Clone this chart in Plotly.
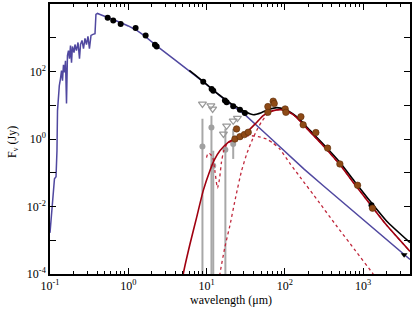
import numpy as np
import plotly.graph_objects as go

# ---------------- data (log10 wavelength [um], log10 flux [Jy]) ----------------
star_logw = [-1.000, -0.981, -0.962, -0.949, -0.943, -0.923, -0.911, -0.904, -0.894, -0.881,
             -0.866, -0.853, -0.840, -0.828, -0.815, -0.802, -0.789, -0.777, -0.764, -0.751,
             -0.738, -0.725, -0.713, -0.693, -0.681, -0.662, -0.642, -0.623, -0.610, -0.591,
             -0.572, -0.553, -0.534, -0.515, -0.496, -0.476, -0.451, -0.425, -0.413, -0.393,
             -0.36, -0.30, -0.20, -0.10, 0.0, 0.10, 0.20, 0.30, 0.40, 0.60, 0.80, 1.00,
             1.25, 1.50, 1.75, 2.00, 2.25, 2.50, 3.00, 3.60]
star_logf = [-2.78, -2.28, -1.83, -1.39, -1.18, -1.12, -0.35, 0.84, 1.26, 1.58,
             1.79, 2.03, 1.73, 2.20, 1.97, 2.32, 1.05, 2.47, 2.62, 2.38,
             2.77, 2.26, 2.74, 2.56, 2.80, 2.62, 2.86, 2.38, 2.80, 2.92,
             2.68, 2.98, 2.80, 3.04, 2.68, 3.07, 3.10, 3.12, 3.69, 3.72,
             3.69, 3.64, 3.55, 3.45, 3.35, 3.23, 3.07, 2.88, 2.69, 2.34, 1.99, 1.62,
             1.13, 0.70, 0.17, -0.37, -0.90, -1.40, -2.38, -3.57]

total_logw = [0.78, 0.9, 1.0, 1.1, 1.2, 1.3, 1.4, 1.5, 1.6, 1.7, 1.8, 1.9, 2.0, 2.1,
              2.2, 2.3, 2.5, 2.7, 2.9, 3.1, 3.3, 3.6]
total_logf = [2.03, 1.81, 1.62, 1.42, 1.24, 1.07, 0.93, 0.80, 0.72, 0.78, 0.88, 0.93, 0.88, 0.75,
              0.56, 0.31, -0.17, -0.68, -1.28, -1.87, -2.43, -3.07]

dust_logw = [0.69, 0.703, 0.788, 0.873, 0.958, 1.043, 1.10, 1.171, 1.277, 1.40, 1.512, 1.64,
             1.724, 1.80, 1.852, 1.937, 2.0, 2.107, 2.2, 2.3, 2.5, 2.7, 2.9, 3.1, 3.3, 3.6]
dust_logf = [-4.3, -4.0, -3.12, -2.33, -1.53, -0.94, -0.62, -0.35, -0.10, 0.05, 0.20, 0.49,
             0.69, 0.80, 0.84, 0.87, 0.85, 0.72, 0.52, 0.27, -0.22, -0.75, -1.36, -1.96, -2.55, -3.33]

cold_logw = [1.15, 1.171, 1.235, 1.299, 1.37, 1.448, 1.52, 1.58, 1.64, 1.70, 1.78, 1.852,
             1.937, 2.0, 2.107, 2.2, 2.3, 2.5, 2.7, 2.9, 3.1, 3.3, 3.6]
cold_logf = [-4.4, -4.0, -3.2, -2.56, -1.75, -0.94, -0.40, -0.05, 0.25, 0.50, 0.74, 0.84,
             0.87, 0.85, 0.72, 0.52, 0.27, -0.22, -0.75, -1.36, -1.96, -2.55, -3.33]

warm_logw = [1.00, 1.02, 1.05, 1.08, 1.11, 1.14, 1.165, 1.19, 1.22, 1.26, 1.35, 1.45, 1.554,
             1.66, 1.767, 1.85, 1.937, 2.065, 2.193, 2.43, 2.66, 2.9, 3.129, 3.2]
warm_logf = [-0.55, -0.42, -0.45, -0.55, -1.00, -1.45, -1.20, -0.70, -0.35, -0.16, -0.02, 0.06, 0.10,
             0.07, 0.00, -0.12, -0.30, -0.72, -1.12, -1.85, -2.57, -3.30, -4.0, -4.25]

phot_logw = [-0.263, -0.192, -0.097, 0.094, 0.222, 0.341, 0.363, 0.958, 1.065, 1.086,
             1.235, 1.257, 1.341, 1.427, 1.49, 3.108]
phot_logf = [3.59, 3.51, 3.41, 3.29, 3.07, 2.79, 2.74, 1.70, 1.48, 1.43,
             1.14, 1.09, 0.97, 0.87, 0.77, -1.96]

fir_logw = [1.363, 1.384, 1.427, 1.484, 1.533, 1.784, 1.784, 1.852, 1.865, 2.005, 2.014,
            2.206, 2.235, 2.397, 2.547, 2.704, 2.93, 3.121]
fir_logf = [0.00, 0.30, 0.07, 0.13, 0.20, 0.96, 0.79, 1.12, 1.05, 0.89, 0.79,
            0.66, 0.42, 0.19, -0.27, -0.74, -1.37, -2.05]

grey_logw = [0.948, 1.063, 1.086, 1.241, 1.341]
grey_logf = [-0.22, 0.34, -0.79, -0.32, -0.15]
grey_logup = [0.60, 0.69, -0.35, 0.31, 0.30]
grey_loglo = [-9.0, -9.0, -9.0, -9.0, -0.59]

ulim_logw = [0.948, 1.056, 1.078, 1.216, 1.257, 1.341, 1.395]
ulim_logf = [1.04, 0.99, 0.89, 0.15, 0.39, 0.54, 0.62]

mm_ulim_logw = [3.525]
mm_ulim_logf = [-3.43]

xtick_vals = [0.1, 1, 10, 100, 1000]
xtick_text = ["10<sup>-1</sup>", "10<sup>0</sup>", "10<sup>1</sup>", "10<sup>2</sup>", "10<sup>3</sup>"]
ytick_vals = [1e-4, 1e-2, 1, 100]
ytick_text = ["10<sup>-4</sup>", "10<sup>-2</sup>", "10<sup>0</sup>", "10<sup>2</sup>"]
ytick_odd = [1e-3, 1e-1, 10, 1000]


def p10(a):
    return np.power(10.0, np.asarray(a, dtype=float))


fig = go.Figure()

# grey mid-IR measurements with error bars
gy = p10(grey_logf)
fig.add_trace(go.Scatter(
    x=p10(grey_logw), y=gy, mode="markers",
    marker=dict(color="#a0a0a0", size=6),
    error_y=dict(type="data", symmetric=False,
                 array=p10(grey_logup) - gy, arrayminus=gy - p10(grey_loglo),
                 color="#a8a8a8", thickness=2, width=0)))
fig.add_trace(go.Scatter(
    x=p10(ulim_logw), y=p10(ulim_logf), mode="markers",
    marker=dict(symbol="triangle-down-open", color="#999999", size=7, line=dict(width=1.2))))

# model components
fig.add_trace(go.Scatter(x=p10(cold_logw), y=p10(cold_logf), mode="lines",
                         line=dict(color="#c0283c", width=1.3, dash="dot", shape="spline", smoothing=0.6)))
fig.add_trace(go.Scatter(x=p10(warm_logw), y=p10(warm_logf), mode="lines",
                         line=dict(color="#c0283c", width=1.3, dash="dot", shape="spline", smoothing=0.6)))
fig.add_trace(go.Scatter(x=p10(star_logw), y=p10(star_logf), mode="lines",
                         line=dict(color="#5048a0", width=1.5)))
fig.add_trace(go.Scatter(x=p10(total_logw), y=p10(total_logf), mode="lines",
                         line=dict(color="black", width=1.6, shape="spline", smoothing=0.6)))
fig.add_trace(go.Scatter(x=p10(dust_logw), y=p10(dust_logf), mode="lines",
                         line=dict(color="#a00010", width=1.6, shape="spline", smoothing=0.6)))

# photometry
fig.add_trace(go.Scatter(x=p10(phot_logw), y=p10(phot_logf), mode="markers",
                         marker=dict(color="black", size=6)))
fig.add_trace(go.Scatter(x=p10(mm_ulim_logw), y=p10(mm_ulim_logf), mode="markers",
                         marker=dict(symbol="triangle-down", color="black", size=6)))
fig.add_trace(go.Scatter(x=p10(fir_logw), y=p10(fir_logf), mode="markers",
                         marker=dict(color="#8e4a16", size=6.5, line=dict(color="#5a2c08", width=0.6))))

minor_x = [m * 10.0 ** d for d in range(-1, 4) for m in range(2, 10)]

fig.update_layout(
    width=415, height=312,
    margin=dict(l=50, r=5, t=4, b=38),
    paper_bgcolor="white", plot_bgcolor="white",
    showlegend=False,
    font=dict(family="Liberation Serif", size=12, color="black"),
    xaxis=dict(type="log", range=[-1, 3.6], tickvals=xtick_vals, ticktext=xtick_text,
               ticks="inside", ticklen=6, tickwidth=1.2, tickcolor="black",
               showline=True, linecolor="black", linewidth=1.5, mirror="ticks",
               showgrid=False, zeroline=False, automargin=False,
               minor=dict(tickvals=minor_x, ticks="inside", ticklen=3, tickcolor="black", showgrid=False)),
    yaxis=dict(type="log", range=[-4, 4], tickvals=ytick_vals, ticktext=ytick_text,
               ticks="inside", ticklen=6, tickwidth=1.2, tickcolor="black",
               showline=True, linecolor="black", linewidth=1.5, mirror="ticks",
               showgrid=False, zeroline=False, automargin=False,
               minor=dict(tickvals=ytick_odd, ticks="inside", ticklen=6, tickwidth=1.2,
                          tickcolor="black", showgrid=False)),
    annotations=[
        dict(text="wavelength (μm)", xref="paper", yref="paper", x=0.503, y=-0.096,
             showarrow=False, xanchor="center", yanchor="middle", font=dict(size=12)),
        dict(text="F<sub>ν</sub> (Jy)", xref="paper", yref="paper", x=-0.103, y=0.489,
             showarrow=False, xanchor="center", yanchor="middle", textangle=-90, font=dict(size=12)),
    ],
)

fig.write_html("out.html", config={"displayModeBar": False},
               post_script="document.body.style.margin='0';document.body.style.padding='0';")
